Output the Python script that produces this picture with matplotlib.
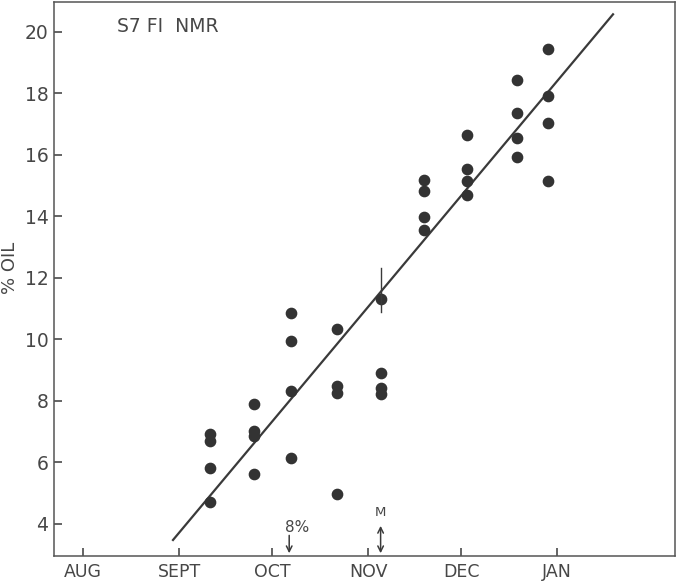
import numpy as np
import matplotlib.pyplot as plt

plt.rcParams["font.family"] = ["DejaVu Sans"]

# days counted from Aug 1
month_days = [0, 31, 61, 92, 122, 153]
month_labels = ["AUG", "SEPT", "OCT", "NOV", "DEC", "JAN"]

sample_days = [41] * 4 + [55] * 4 + [67] * 4 + [82] * 4 + [96] * 4 + \
              [110] * 4 + [124] * 4 + [140] * 4 + [150] * 4
oil = [6.93, 6.70, 5.81, 4.72,
       7.90, 7.03, 6.86, 5.62,
       10.86, 9.94, 8.33, 6.13,
       10.35, 8.48, 8.24, 4.96,
       11.30, 8.91, 8.41, 8.21,
       15.17, 14.81, 13.96, 13.55,
       16.63, 15.53, 15.16, 14.70,
       18.42, 17.35, 16.53, 15.93,
       19.42, 17.91, 17.04, 15.14]

fit_days = [29, 171]
fit_oil = [3.48, 20.56]

ink = "#3a3a3a"
txt = "#474747"

fig = plt.figure(figsize=(6.81, 5.81), dpi=100)
ax = fig.add_axes([54 / 681, 25 / 581, 621 / 681, 554 / 581])

ax.plot(fit_days, fit_oil, color=ink, lw=1.6)
ax.plot(sample_days, oil, "o", color="#333333", ms=7.4, mec="#333333")
# vertical mark at the November mean
ax.plot([96, 96], [10.88, 12.31], color=ink, lw=1.0)

ax.set_xlim(-9.4, 191)
ax.set_ylim(2.96, 20.96)
ax.set_xticks(month_days)
ax.set_xticklabels(month_labels)
ax.set_yticks(np.arange(4, 21, 2))
ax.tick_params(direction="in", length=6, width=1.1, color=ink, labelcolor=txt)
ax.tick_params(axis="x", pad=5, labelsize=12.5)
ax.tick_params(axis="y", pad=4, labelsize=13.5)
for s in ax.spines.values():
    s.set_color("#555555")
    s.set_linewidth(1.1)

ax.annotate("", xy=(66.5, 2.96), xytext=(66.5, 3.72),
            arrowprops=dict(arrowstyle="->", color=ink, lw=1.1))
ax.text(69, 3.9, "8%", ha="center", va="center", fontsize=11, color=txt)
ax.annotate("", xy=(96, 2.96), xytext=(96, 4.03),
            arrowprops=dict(arrowstyle="<->", color=ink, lw=1.1))
ax.text(96, 4.37, "M", ha="center", va="center", fontsize=9.5, color=txt)

ax.text(0.101, 0.955, "S7 FI  NMR", transform=ax.transAxes, ha="left",
        va="center", fontsize=13.5, color=txt)
fig.text(10 / 681, 1 - 268 / 581, "% OIL", rotation=90, ha="center",
         va="center", fontsize=13, color=txt)

fig.savefig("out.png", dpi=100)
